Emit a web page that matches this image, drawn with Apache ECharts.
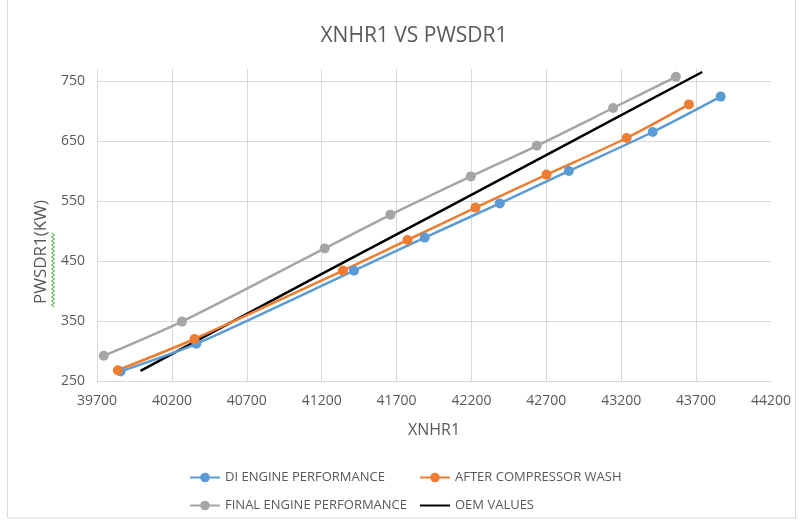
<!DOCTYPE html>
<html>
<head>
<meta charset="utf-8">
<script src="https://cdn.jsdelivr.net/npm/echarts@6/dist/echarts.min.js"></script>
<style>html,body{margin:0;padding:0;background:#fff;}#c{width:798px;height:524px;}</style>
</head>
<body>
<div id="c"></div>
<script>
const seriesNames = ['DI ENGINE PERFORMANCE', 'AFTER COMPRESSOR WASH', 'FINAL ENGINE PERFORMANCE', 'OEM VALUES'];
const diX = [39857, 40363, 41416, 41888, 42389, 42850, 43410, 43864];
const diY = [266, 312, 434, 489, 546, 600, 665, 724];
const washX = [39839, 40351, 41342, 41773, 42227, 42701, 43236, 43652];
const washY = [268, 320, 434, 485, 539, 594, 655, 711];
const finalX = [39745, 40267, 41220, 41659, 42196, 42636, 43146, 43565];
const finalY = [292, 349, 471, 527, 591, 642, 705, 757];
const oemX = [39990, 41220, 42055, 43741];
const oemY = [267, 431, 541, 765];
const xTicks = { min: 39700, max: 44200, step: 500 };
const yTicks = { min: 250, max: 770, step: 100 };

const pair = (xs, ys) => xs.map((x, i) => [x, ys[i]]);
const FONT = 'Open Sans';
const TXT = '#595959';
const GRID = '#d9d9d9';

const chart = echarts.init(document.getElementById('c'), null, { renderer: 'canvas' });
const mkLine = (name, data, color, marker, width) => ({
  name, type: 'line', data, smooth: 0.25,
  symbol: marker ? 'circle' : 'none', symbolSize: 10, showSymbol: marker,
  lineStyle: { color, width }, itemStyle: { color }, z: marker ? 3 : 2
});

// spell-check squiggle under the y-axis title
const squig = [];
for (let y = 233, k = 0; y <= 307; y += 2, k++) squig.push([k % 2 ? 54.5 : 51.5, y]);

const legendText = { fontFamily: FONT, fontSize: 13, color: TXT };

chart.setOption({
  animation: false,
  backgroundColor: '#fff',
  title: {
    text: 'XNHR1 VS PWSDR1', left: 409, top: 21, textAlign: 'center',
    textStyle: { fontFamily: FONT, fontSize: 21, fontWeight: 'normal', color: TXT }
  },
  grid: { left: 97, right: 27, top: 69, bottom: 143, containLabel: false, outerBoundsMode: 'none' },
  xAxis: {
    type: 'value', min: xTicks.min, max: xTicks.max, interval: xTicks.step,
    name: 'XNHR1', nameLocation: 'middle', nameGap: 41,
    nameTextStyle: { fontFamily: FONT, fontSize: 16, color: TXT },
    axisLine: { show: true, lineStyle: { color: GRID, width: 1 } },
    axisTick: { show: false },
    axisLabel: { fontFamily: FONT, fontSize: 14, color: TXT, margin: 13, formatter: v => String(v) },
    splitLine: { show: true, showMinLine: false, showMaxLine: false, lineStyle: { color: GRID, width: 1 } }
  },
  yAxis: {
    type: 'value', min: yTicks.min, max: yTicks.max, interval: yTicks.step,
    name: 'PWSDR1(KW)', nameLocation: 'middle', nameGap: 44, nameRotate: 90,
    nameTextStyle: { fontFamily: FONT, fontSize: 17, color: TXT, padding: [0, 54, 0, 0] },
    axisLine: { show: true, lineStyle: { color: GRID, width: 1 } },
    axisTick: { show: false },
    axisLabel: { fontFamily: FONT, fontSize: 14, color: TXT, margin: 12, showMaxLabel: false, formatter: v => String(v) },
    splitLine: { show: true, showMinLine: false, showMaxLine: false, lineStyle: { color: GRID, width: 1 } }
  },
  legend: [
    {
      data: [seriesNames[0], seriesNames[2]], orient: 'vertical', left: 184, top: 466, itemGap: 15,
      itemWidth: 30, itemHeight: 12, textStyle: legendText
    },
    {
      data: [seriesNames[1], { name: seriesNames[3], itemStyle: { opacity: 0 } }], orient: 'vertical', left: 414, top: 466, itemGap: 15,
      itemWidth: 30, itemHeight: 12, textStyle: legendText
    }
  ],
  graphic: [
    { type: 'rect', shape: { x: 7.5, y: -2, width: 788, height: 520 }, style: { fill: 'none', stroke: '#d9d9d9', lineWidth: 1 }, silent: true },
    { type: 'polyline', shape: { points: squig }, style: { fill: 'none', stroke: '#3fae3f', lineWidth: 1 }, silent: true }
  ],
  series: [
    mkLine(seriesNames[0], pair(diX, diY), '#5B9BD5', true, 2.5),
    mkLine(seriesNames[1], pair(washX, washY), '#ED7D31', true, 2.5),
    mkLine(seriesNames[2], pair(finalX, finalY), '#A5A5A5', true, 2.5),
    mkLine(seriesNames[3], pair(oemX, oemY), '#000000', false, 2.5)
  ]
});
</script>
</body>
</html>
